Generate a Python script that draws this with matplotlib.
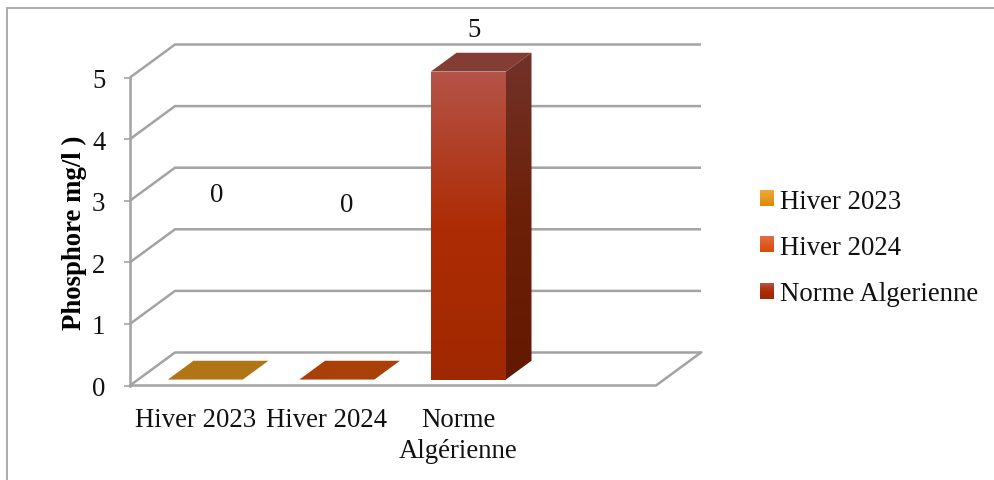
#!/usr/bin/env python
"""Phosphore: barres 3D simulees (Hiver 2023, Hiver 2024, Norme Algerienne)."""
import matplotlib

matplotlib.use("Agg")
import matplotlib.pyplot as plt
import numpy as np
from matplotlib.colors import LinearSegmentedColormap
from matplotlib.legend_handler import HandlerBase
from matplotlib.lines import Line2D
from matplotlib.patches import Polygon, Rectangle

plt.rcParams["font.family"] = ["Liberation Serif", "DejaVu Serif"]

CATEGORIES = ["Hiver 2023", "Hiver 2024", "Norme\nAlgérienne"]
SERIES = ["Hiver 2023", "Hiver 2024", "Norme Algerienne"]
VALUES = [0, 0, 5]
Y_TICKS = [0, 1, 2, 3, 4, 5]

# front -> back gradient stops and flat face colours per series
FRONT = [("#eda838", "#dd8a0c"), ("#e26b3f", "#d94c05"), ("#b55348", "#ad2c05", "#a02800")]
SIDE = [("#7a5010", "#6a4008"), ("#7a3010", "#6a2404"), ("#72322a", "#6d2008", "#651800")]
TOP = ["#b07514", "#a84008", "#843d35"]
GRID = "#a3a3a3"
TEXT = "#111111"
FONT_SIZE = 19.3

W, H = 995, 481
# oblique projection of the depth axis, in data units
DEPTH_X = 45 / 131.5
DEPTH_Y = 33 / 61.6
BAR_WIDTH = 75 / 131.5
BAR_NEAR, BAR_FAR = 0.18, 0.75
BAR_SHIFT = 1.5 / 131.5


def _px_axes(fig, left, right, top, bottom):
    return fig.add_axes([left / W, 1 - bottom / H, (right - left) / W, (bottom - top) / H])


def _depth(x, y, d):
    return x + d * DEPTH_X, y + d * DEPTH_Y


def _gradient_face(ax, pts, stops):
    pts = np.asarray(pts)
    cmap = LinearSegmentedColormap.from_list("face", stops)
    poly = Polygon(pts, closed=True, transform=ax.transData, facecolor="none", edgecolor="none")
    ax.add_patch(poly)
    poly.set_clip_on(False)
    extent = (pts[:, 0].min(), pts[:, 0].max(), pts[:, 1].min(), pts[:, 1].max())
    img = ax.imshow(
        np.linspace(0, 1, 256).reshape(-1, 1),
        cmap=cmap,
        extent=extent,
        origin="upper",
        aspect="auto",
        zorder=3,
    )
    img.set_clip_path(poly)
    img.set_clip_box(ax.figure.bbox)


def _draw_bar(ax, x, value, i):
    x0, x1 = x - BAR_WIDTH / 2, x + BAR_WIDTH / 2
    near = [_depth(x0, value, BAR_NEAR), _depth(x1, value, BAR_NEAR)]
    far = [_depth(x1, value, BAR_FAR), _depth(x0, value, BAR_FAR)]
    top = Polygon(near + far, closed=True, facecolor=TOP[i], edgecolor="none", zorder=3, clip_on=False)
    ax.add_patch(top)
    if value > 0:
        _gradient_face(
            ax,
            [_depth(x0, 0, BAR_NEAR), _depth(x1, 0, BAR_NEAR), near[1], near[0]],
            FRONT[i],
        )
        _gradient_face(
            ax,
            [_depth(x1, 0, BAR_NEAR), _depth(x1, 0, BAR_FAR), far[0], near[1]],
            SIDE[i],
        )


class GradientSwatch(HandlerBase):
    def create_artists(self, legend, orig_handle, xdescent, ydescent, width, height, fontsize, trans):
        cmap = LinearSegmentedColormap.from_list("swatch", orig_handle.stops)
        artists = []
        n = 14
        for k in range(n):
            artists.append(
                Rectangle(
                    (-xdescent, -ydescent + height * (n - k - 1) / n),
                    width,
                    height / n + 0.2,
                    facecolor=cmap(k / (n - 1)),
                    edgecolor="none",
                    transform=trans,
                )
            )
        return artists


def main():
    fig = plt.figure(figsize=(W / 100, H / 100), dpi=100)
    fig.patch.set_facecolor("white")
    # cadre du graphique, ouvert a droite et en bas
    for xs, ys in (([7.5, 7.5], [H, 8.5]), ([7.5, W], [8.5, 8.5])):
        fig.add_artist(
            Line2D(np.array(xs) / W, 1 - np.array(ys) / H, color="#ababab", linewidth=1.4)
        )

    ax = _px_axes(fig, 130, 656, 78.5, 386.5)
    xlim = (-0.5, 3.5)
    ylim = (0, 5)

    # parois: lignes de grille en L (diagonale puis fond), plancher ferme
    for y in Y_TICKS:
        bx, by = _depth(xlim[0], y, 1)
        ex, _ = _depth(xlim[1], y, 1)
        ax.plot([xlim[0], bx, ex], [y, by, by], color=GRID, lw=1.8, clip_on=False, zorder=1,
                solid_joinstyle="miter", solid_capstyle="butt")
    ax.plot(
        [xlim[0], xlim[1], _depth(xlim[1], 0, 1)[0]],
        [0, 0, _depth(xlim[1], 0, 1)[1]],
        color=GRID, lw=1.8, clip_on=False, zorder=1, solid_joinstyle="miter",
    )

    positions = np.arange(len(CATEGORIES))
    for i, (x, v) in enumerate(zip(positions, VALUES)):
        _draw_bar(ax, x + BAR_SHIFT, v, i)

    # etiquettes de valeur, decalees au-dessus des barres
    label_offsets = [(11.5, -185), (9.5, -175), (5.5, -42.5)]
    for x, v, (ox, oy) in zip(positions, VALUES, label_offsets):
        ax.annotate(
            str(v),
            xy=_depth(x + BAR_SHIFT, v, BAR_NEAR),
            xytext=(ox * 0.72, -oy * 0.72),
            textcoords="offset points",
            ha="center",
            va="center",
            fontsize=FONT_SIZE,
            color=TEXT,
            annotation_clip=False,
        )

    ax.set_xlim(*xlim)
    ax.set_ylim(*ylim)
    ax.patch.set_visible(False)
    for name in ("top", "right", "bottom"):
        ax.spines[name].set_visible(False)
    ax.spines["left"].set_color(GRID)
    ax.spines["left"].set_linewidth(1.8)
    ax.set_yticks(Y_TICKS)
    ax.tick_params(axis="y", length=4.5, width=1.2, color=GRID, labelsize=FONT_SIZE, pad=13.2, labelcolor=TEXT)
    ax.set_xticks(positions - 0.004)
    ax.set_xticklabels(CATEGORIES, fontsize=FONT_SIZE, color=TEXT, linespacing=1.3)
    ax.tick_params(axis="x", length=0, pad=15.5)
    ax.set_ylabel("Phosphore mg/l )", fontsize=FONT_SIZE, fontweight="bold", color="black", labelpad=3.8)

    handles = []
    for stops, name in zip(FRONT, SERIES):
        h = Rectangle((0, 0), 1, 1, label=name)
        h.stops = stops
        handles.append(h)
    fig.legend(
        handles=handles,
        loc="center left",
        bbox_to_anchor=(760 / W, 1 - 248.5 / H),
        frameon=False,
        fontsize=FONT_SIZE,
        labelcolor=TEXT,
        handler_map={Rectangle: GradientSwatch()},
        handlelength=0.53,
        handleheight=0.53,
        handletextpad=0.2,
        labelspacing=0.8,
        borderpad=0,
        borderaxespad=0,
    )

    fig.savefig("out.png", dpi=100)
    plt.close(fig)


if __name__ == "__main__":
    main()
